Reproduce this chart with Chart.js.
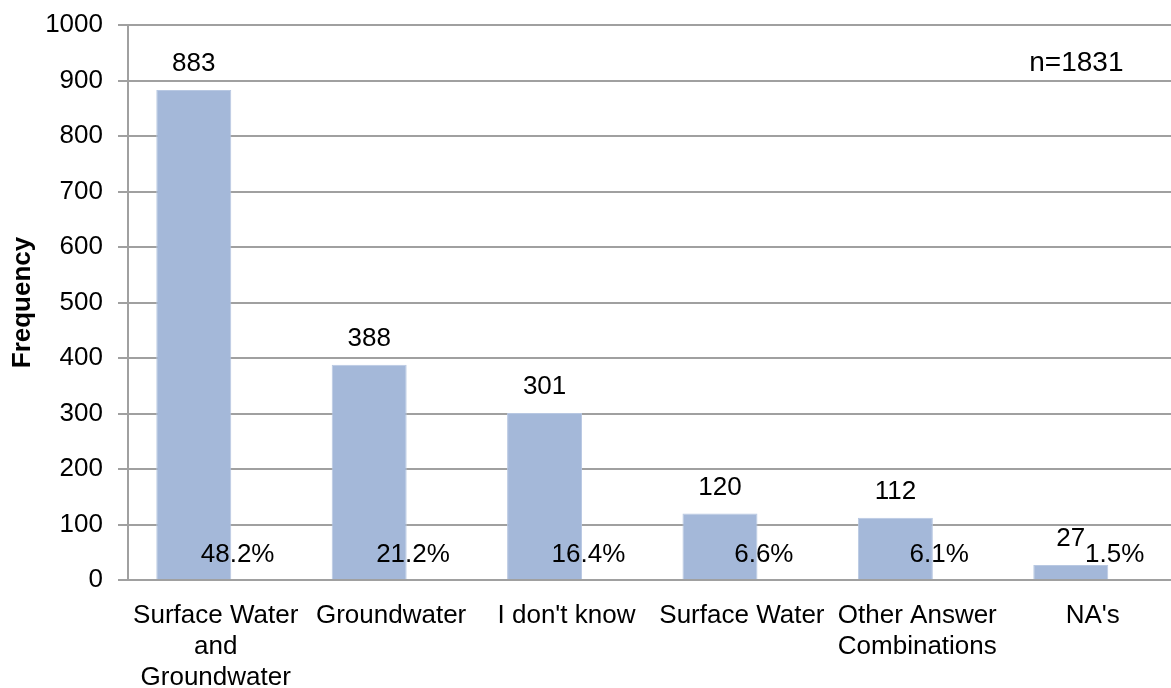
<!DOCTYPE html>
<html>
<head>
<meta charset="utf-8">
<script src="https://cdn.jsdelivr.net/npm/chart.js@4.4.1/dist/chart.umd.min.js"></script>
<style>
  html, body { margin: 0; padding: 0; background: #fff; overflow: hidden; }
  #wrap { width: 1171px; height: 688px; overflow: hidden; position: relative; }
  canvas { display: block; }
</style>
</head>
<body>
<div id="wrap">
  <canvas id="c" width="1182" height="688" style="width:1182px;height:688px"></canvas>
</div>
<script>
// Survey answers: where does the water come from?
const categories = [
  ["Surface Water", "and", "Groundwater"],
  "Groundwater",
  "I don't know",
  "Surface Water",
  ["Other Answer", "Combinations"],
  "NA's"
];
const counts   = [883, 388, 301, 120, 112, 27];
const percents = [48.2, 21.2, 16.4, 6.6, 6.1, 1.5];
const yMin = 0, yMax = 1000, yStep = 100;
const sampleNote = "n=1831";

const FONT = '"Liberation Sans", Arial, Helvetica, sans-serif';
const BAR_COLOR = '#A4B8D9';
const GRID_COLOR = '#A0A0A0';

// Count labels above bars, percentage labels near the base, sample size note
const barLabels = {
  id: 'barLabels',
  afterDatasetsDraw(chart) {
    const { ctx, chartArea } = chart;
    const yScale = chart.scales.y;
    ctx.save();
    ctx.fillStyle = '#000';
    ctx.textAlign = 'center';
    ctx.textBaseline = 'middle';
    ctx.font = '26px ' + FONT;
    chart.getDatasetMeta(0).data.forEach((bar, i) => {
      ctx.fillText(String(counts[i]), bar.x, bar.y - 26);
    });
    const base = yScale.getPixelForValue(0);
    chart.getDatasetMeta(1).data.forEach((bar, i) => {
      ctx.fillText(percents[i].toFixed(1) + '%', bar.x, base - 25);
    });
    ctx.font = '28px ' + FONT;
    ctx.fillText(sampleNote, chartArea.right - 104, chartArea.top + 38);
    ctx.restore();
  }
};

new Chart(document.getElementById('c'), {
  type: 'bar',
  data: {
    labels: categories,
    datasets: [
      {
        label: 'Frequency',
        data: counts,
        backgroundColor: BAR_COLOR,
        borderColor: '#B8C8E2',
        borderWidth: 1,
        categoryPercentage: 0.5,
        barPercentage: 1.71
      },
      {
        label: 'Percent',
        data: percents,
        backgroundColor: 'rgba(0,0,0,0)',
        borderWidth: 0,
        categoryPercentage: 0.5,
        barPercentage: 1.71
      }
    ]
  },
  options: {
    responsive: false,
    animation: false,
    devicePixelRatio: 1,
    layout: { padding: { top: 0, right: 1.6, bottom: 0, left: 0 } },
    plugins: {
      legend: { display: false },
      tooltip: { enabled: false }
    },
    scales: {
      x: {
        grid: { display: false, drawTicks: false },
        border: { display: true, color: GRID_COLOR, width: 2 },
        ticks: {
          color: '#000',
          font: { family: FONT, size: 26 },
          padding: 20,
          maxRotation: 0,
          autoSkip: false
        },
        afterFit(scale) { scale.height = 108; }
      },
      y: {
        min: yMin,
        max: yMax,
        grid: {
          color: GRID_COLOR,
          lineWidth: 2,
          drawTicks: true,
          tickLength: 10,
          tickColor: GRID_COLOR
        },
        border: { display: true, color: GRID_COLOR, width: 2 },
        ticks: {
          stepSize: yStep,
          color: '#000',
          font: { family: FONT, size: 26, lineHeight: 0.77 },
          padding: 15,
          callback: (v) => String(v)
        },
        title: {
          display: true,
          text: 'Frequency',
          color: '#000',
          font: { family: FONT, size: 26, weight: 'bold' },
          padding: { top: 7, bottom: 0 }
        },
        afterFit(scale) { scale.width = 128; }
      }
    }
  },
  plugins: [barLabels]
});
</script>
</body>
</html>
